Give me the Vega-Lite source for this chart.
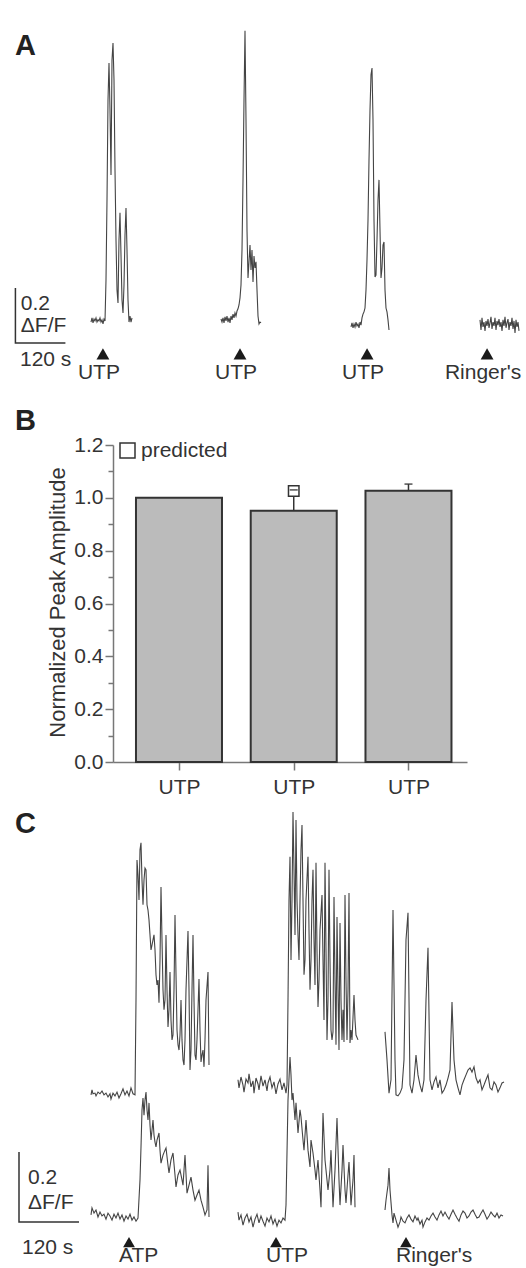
{
  "$schema": "https://vega.github.io/schema/vega-lite/v6.json",
  "background": "white",
  "padding": {"left": 12, "top": 24, "right": 0, "bottom": 0},
  "spacing": 0,
  "config": {
    "font": "Liberation Sans",
    "view": {"stroke": null},
    "text": {"font": "Liberation Sans", "fontSize": 21, "color": "#333"},
    "axis": {"labelFont": "Liberation Sans", "titleFont": "Liberation Sans", "grid": false},
    "legend": {"labelFont": "Liberation Sans"}
  },
  "resolve": {"scale": {"shape": "independent"}, "legend": {"shape": "independent"}},
  "datasets": {
    "a_traces": [
      {"trace":"A1","t":182.4,"v":-0.004},{"trace":"A1","t":184.8,"v":0.011},{"trace":"A1","t":187.2,"v":-0.007},{"trace":"A1","t":189.6,"v":0.007},{"trace":"A1","t":192,"v":0},{"trace":"A1","t":194.4,"v":0.011},{"trace":"A1","t":196.8,"v":-0.004},{"trace":"A1","t":199.2,"v":0.004},{"trace":"A1","t":201.6,"v":0},{"trace":"A1","t":204,"v":0.011},{"trace":"A1","t":206.4,"v":-0.004},{"trace":"A1","t":208.8,"v":0.004},{"trace":"A1","t":211.2,"v":-0.011},{"trace":"A1","t":213.6,"v":0.007},{"trace":"A1","t":216,"v":0},{"trace":"A1","t":218.4,"v":0.149},{"trace":"A1","t":220.8,"v":0.44},{"trace":"A1","t":223.2,"v":0.804},{"trace":"A1","t":225.6,"v":0.938},{"trace":"A1","t":228,"v":0.767},{"trace":"A1","t":230.4,"v":0.531},{"trace":"A1","t":232.8,"v":0.949},{"trace":"A1","t":235.2,"v":1.011},{"trace":"A1","t":237.6,"v":0.876},{"trace":"A1","t":240,"v":0.549},{"trace":"A1","t":242.4,"v":0.295},{"trace":"A1","t":244.8,"v":0.113},{"trace":"A1","t":247.2,"v":0.065},{"trace":"A1","t":249.6,"v":0.295},{"trace":"A1","t":252,"v":0.393},{"trace":"A1","t":254.4,"v":0.24},{"trace":"A1","t":256.8,"v":0.076},{"trace":"A1","t":259.2,"v":0.029},{"trace":"A1","t":261.6,"v":0.131},{"trace":"A1","t":264,"v":0.313},{"trace":"A1","t":266.4,"v":0.411},{"trace":"A1","t":268.8,"v":0.258},{"trace":"A1","t":271.2,"v":0.076},{"trace":"A1","t":273.6,"v":-0.004},{"trace":"A1","t":276,"v":0.018},{"trace":"A1","t":278.4,"v":-0.004},{"trace":"A1","t":280.8,"v":0.011},
      {"trace":"A2","t":494.4,"v":0.007},{"trace":"A2","t":496.8,"v":-0.004},{"trace":"A2","t":499.2,"v":0.011},{"trace":"A2","t":501.6,"v":-0.007},{"trace":"A2","t":504,"v":0.015},{"trace":"A2","t":506.4,"v":0},{"trace":"A2","t":508.8,"v":0.018},{"trace":"A2","t":511.2,"v":-0.004},{"trace":"A2","t":513.6,"v":0.011},{"trace":"A2","t":516,"v":-0.007},{"trace":"A2","t":518.4,"v":0.018},{"trace":"A2","t":520.8,"v":0.004},{"trace":"A2","t":523.2,"v":0.025},{"trace":"A2","t":525.6,"v":0.011},{"trace":"A2","t":528,"v":0.029},{"trace":"A2","t":530.4,"v":0.018},{"trace":"A2","t":532.8,"v":0.036},{"trace":"A2","t":535.2,"v":0.044},{"trace":"A2","t":537.6,"v":0.058},{"trace":"A2","t":540,"v":0.084},{"trace":"A2","t":542.4,"v":0.131},{"trace":"A2","t":544.8,"v":0.258},{"trace":"A2","t":547.2,"v":0.513},{"trace":"A2","t":549.6,"v":0.804},{"trace":"A2","t":552,"v":1.055},{"trace":"A2","t":554.4,"v":0.731},{"trace":"A2","t":556.8,"v":0.331},{"trace":"A2","t":559.2,"v":0.156},{"trace":"A2","t":561.6,"v":0.215},{"trace":"A2","t":564,"v":0.276},{"trace":"A2","t":566.4,"v":0.185},{"trace":"A2","t":568.8,"v":0.258},{"trace":"A2","t":571.2,"v":0.142},{"trace":"A2","t":573.6,"v":0.236},{"trace":"A2","t":576,"v":0.193},{"trace":"A2","t":578.4,"v":0.215},{"trace":"A2","t":580.8,"v":0.113},{"trace":"A2","t":583.2,"v":0.018},{"trace":"A2","t":585.6,"v":-0.011},{"trace":"A2","t":588,"v":-0.004},{"trace":"A2","t":590.4,"v":-0.007},
      {"trace":"A3","t":806.4,"v":-0.022},{"trace":"A3","t":808.8,"v":-0.007},{"trace":"A3","t":811.2,"v":-0.025},{"trace":"A3","t":813.6,"v":-0.011},{"trace":"A3","t":816,"v":-0.022},{"trace":"A3","t":818.4,"v":-0.004},{"trace":"A3","t":820.8,"v":-0.018},{"trace":"A3","t":823.2,"v":-0.011},{"trace":"A3","t":825.6,"v":-0.025},{"trace":"A3","t":828,"v":-0.004},{"trace":"A3","t":830.4,"v":-0.015},{"trace":"A3","t":832.8,"v":0.011},{"trace":"A3","t":835.2,"v":0.025},{"trace":"A3","t":837.6,"v":0.033},{"trace":"A3","t":840,"v":0.047},{"trace":"A3","t":842.4,"v":0.113},{"trace":"A3","t":844.8,"v":0.222},{"trace":"A3","t":847.2,"v":0.367},{"trace":"A3","t":849.6,"v":0.585},{"trace":"A3","t":852,"v":0.767},{"trace":"A3","t":854.4,"v":0.895},{"trace":"A3","t":856.8,"v":0.92},{"trace":"A3","t":859.2,"v":0.731},{"trace":"A3","t":861.6,"v":0.367},{"trace":"A3","t":864,"v":0.16},{"trace":"A3","t":866.4,"v":0.167},{"trace":"A3","t":868.8,"v":0.295},{"trace":"A3","t":871.2,"v":0.44},{"trace":"A3","t":873.6,"v":0.513},{"trace":"A3","t":876,"v":0.331},{"trace":"A3","t":878.4,"v":0.156},{"trace":"A3","t":880.8,"v":0.193},{"trace":"A3","t":883.2,"v":0.276},{"trace":"A3","t":885.6,"v":0.287},{"trace":"A3","t":888,"v":0.113},{"trace":"A3","t":890.4,"v":0.047},{"trace":"A3","t":892.8,"v":0.033},{"trace":"A3","t":895.2,"v":0.004},{"trace":"A3","t":897.6,"v":-0.033},
      {"trace":"A4","t":1116,"v":0.004},{"trace":"A4","t":1118.4,"v":-0.033},{"trace":"A4","t":1120.8,"v":0.011},{"trace":"A4","t":1123.2,"v":-0.022},{"trace":"A4","t":1125.6,"v":-0.004},{"trace":"A4","t":1128,"v":-0.036},{"trace":"A4","t":1130.4,"v":0},{"trace":"A4","t":1132.8,"v":-0.018},{"trace":"A4","t":1135.2,"v":0.007},{"trace":"A4","t":1137.6,"v":-0.025},{"trace":"A4","t":1140,"v":-0.007},{"trace":"A4","t":1142.4,"v":0.015},{"trace":"A4","t":1144.8,"v":-0.029},{"trace":"A4","t":1147.2,"v":-0.004},{"trace":"A4","t":1149.6,"v":-0.018},{"trace":"A4","t":1152,"v":0.011},{"trace":"A4","t":1154.4,"v":-0.033},{"trace":"A4","t":1156.8,"v":0},{"trace":"A4","t":1159.2,"v":-0.015},{"trace":"A4","t":1161.6,"v":0.007},{"trace":"A4","t":1164,"v":-0.022},{"trace":"A4","t":1166.4,"v":-0.004},{"trace":"A4","t":1168.8,"v":-0.036},{"trace":"A4","t":1171.2,"v":0.004},{"trace":"A4","t":1173.6,"v":-0.018},{"trace":"A4","t":1176,"v":0.015},{"trace":"A4","t":1178.4,"v":-0.025},{"trace":"A4","t":1180.8,"v":-0.007},{"trace":"A4","t":1183.2,"v":0.007},{"trace":"A4","t":1185.6,"v":-0.033},{"trace":"A4","t":1188,"v":-0.004},{"trace":"A4","t":1190.4,"v":-0.018},{"trace":"A4","t":1192.8,"v":0.011},{"trace":"A4","t":1195.2,"v":-0.029},{"trace":"A4","t":1197.6,"v":0},{"trace":"A4","t":1200,"v":-0.044},{"trace":"A4","t":1202.4,"v":0.004},{"trace":"A4","t":1204.8,"v":-0.022},{"trace":"A4","t":1207.2,"v":-0.004},{"trace":"A4","t":1209.6,"v":-0.036}
    ],
    "a_stim": [
      {"t": 211, "agent": "UTP"}, {"t": 540, "agent": "UTP"}, {"t": 845, "agent": "UTP"}, {"t": 1133, "agent": "Ringer's"}
    ],
    "a_scale": [
      {"i": 0, "t": 1, "v": 0.12}, {"i": 1, "t": 1, "v": -0.08}, {"i": 2, "t": 121, "v": -0.08}
    ],
    "a_scale_text": [
      {"t": 14, "v": 0.04, "label": "0.2"}, {"t": 14, "v": -0.04, "label": "ΔF/F"}, {"t": 12, "v": -0.164, "label": "120 s"}
    ],
    "bars": [
      {"pos": 1, "agent": "UTP", "mean": 1.0, "upper": 1.0},
      {"pos": 2, "agent": "UTP", "mean": 0.951, "upper": 1.03, "predicted": 1.026},
      {"pos": 3, "agent": "UTP", "mean": 1.027, "upper": 1.052}
    ],
    "c_top": [
      {"col":"ATP","t":152,"v":-0.014},{"col":"ATP","t":154,"v":0},{"col":"ATP","t":156,"v":-0.011},{"col":"ATP","t":160,"v":-0.009},{"col":"ATP","t":162,"v":-0.017},{"col":"ATP","t":166,"v":-0.006},{"col":"ATP","t":170,"v":-0.011},{"col":"ATP","t":174,"v":-0.003},{"col":"ATP","t":178,"v":-0.014},{"col":"ATP","t":182,"v":-0.009},{"col":"ATP","t":186,"v":-0.02},{"col":"ATP","t":190,"v":-0.011},{"col":"ATP","t":192,"v":-0.026},{"col":"ATP","t":196,"v":-0.009},{"col":"ATP","t":200,"v":-0.017},{"col":"ATP","t":204,"v":-0.006},{"col":"ATP","t":208,"v":-0.023},{"col":"ATP","t":212,"v":-0.011},{"col":"ATP","t":216,"v":0.003},{"col":"ATP","t":220,"v":-0.014},{"col":"ATP","t":224,"v":-0.003},{"col":"ATP","t":228,"v":-0.017},{"col":"ATP","t":232,"v":0.006},{"col":"ATP","t":236,"v":-0.011},{"col":"ATP","t":240,"v":-0.014},{"col":"ATP","t":242,"v":0.257},{"col":"ATP","t":244,"v":0.657},{"col":"ATP","t":246,"v":0.614},{"col":"ATP","t":248,"v":0.543},{"col":"ATP","t":250,"v":0.686},{"col":"ATP","t":252,"v":0.706},{"col":"ATP","t":254,"v":0.6},{"col":"ATP","t":256,"v":0.529},{"col":"ATP","t":258,"v":0.6},{"col":"ATP","t":260,"v":0.634},{"col":"ATP","t":262,"v":0.629},{"col":"ATP","t":264,"v":0.529},{"col":"ATP","t":266,"v":0.514},{"col":"ATP","t":268,"v":0.486},{"col":"ATP","t":270,"v":0.443},{"col":"ATP","t":272,"v":0.4},{"col":"ATP","t":274,"v":0.414},{"col":"ATP","t":276,"v":0.429},{"col":"ATP","t":278,"v":0.443},{"col":"ATP","t":280,"v":0.4},{"col":"ATP","t":282,"v":0.329},{"col":"ATP","t":284,"v":0.3},{"col":"ATP","t":286,"v":0.314},{"col":"ATP","t":288,"v":0.249},{"col":"ATP","t":290,"v":0.371},{"col":"ATP","t":292,"v":0.58},{"col":"ATP","t":294,"v":0.429},{"col":"ATP","t":296,"v":0.286},{"col":"ATP","t":298,"v":0.229},{"col":"ATP","t":300,"v":0.257},{"col":"ATP","t":302,"v":0.443},{"col":"ATP","t":304,"v":0.286},{"col":"ATP","t":306,"v":0.18},{"col":"ATP","t":308,"v":0.229},{"col":"ATP","t":310,"v":0.337},{"col":"ATP","t":312,"v":0.2},{"col":"ATP","t":314,"v":0.143},{"col":"ATP","t":316,"v":0.157},{"col":"ATP","t":318,"v":0.286},{"col":"ATP","t":320,"v":0.5},{"col":"ATP","t":322,"v":0.329},{"col":"ATP","t":324,"v":0.171},{"col":"ATP","t":326,"v":0.129},{"col":"ATP","t":328,"v":0.114},{"col":"ATP","t":330,"v":0.157},{"col":"ATP","t":332,"v":0.257},{"col":"ATP","t":334,"v":0.143},{"col":"ATP","t":336,"v":0.086},{"col":"ATP","t":338,"v":0.071},{"col":"ATP","t":340,"v":0.143},{"col":"ATP","t":342,"v":0.286},{"col":"ATP","t":346,"v":0.454},{"col":"ATP","t":348,"v":0.286},{"col":"ATP","t":350,"v":0.057},{"col":"ATP","t":352,"v":0.114},{"col":"ATP","t":354,"v":0.286},{"col":"ATP","t":356,"v":0.443},{"col":"ATP","t":358,"v":0.257},{"col":"ATP","t":360,"v":0.1},{"col":"ATP","t":362,"v":0.086},{"col":"ATP","t":364,"v":0.143},{"col":"ATP","t":368,"v":0.317},{"col":"ATP","t":370,"v":0.171},{"col":"ATP","t":372,"v":0.08},{"col":"ATP","t":374,"v":0.1},{"col":"ATP","t":376,"v":0.114},{"col":"ATP","t":378,"v":0.066},{"col":"ATP","t":380,"v":0.143},{"col":"ATP","t":382,"v":0.257},{"col":"ATP","t":386,"v":0.337},{"col":"ATP","t":388,"v":0.071},
      {"col":"UTP","t":446,"v":0.029},{"col":"UTP","t":448,"v":0.006},{"col":"UTP","t":452,"v":0.037},{"col":"UTP","t":456,"v":0.014},{"col":"UTP","t":458,"v":-0.006},{"col":"UTP","t":462,"v":0.031},{"col":"UTP","t":466,"v":0.02},{"col":"UTP","t":468,"v":0.046},{"col":"UTP","t":472,"v":0.009},{"col":"UTP","t":476,"v":0.026},{"col":"UTP","t":478,"v":-0.009},{"col":"UTP","t":482,"v":0.034},{"col":"UTP","t":486,"v":0.017},{"col":"UTP","t":488,"v":0},{"col":"UTP","t":492,"v":0.04},{"col":"UTP","t":496,"v":0.011},{"col":"UTP","t":500,"v":0.029},{"col":"UTP","t":504,"v":-0.003},{"col":"UTP","t":506,"v":0.02},{"col":"UTP","t":510,"v":0.037},{"col":"UTP","t":514,"v":0.006},{"col":"UTP","t":518,"v":0.023},{"col":"UTP","t":522,"v":-0.011},{"col":"UTP","t":526,"v":0.017},{"col":"UTP","t":530,"v":0.031},{"col":"UTP","t":534,"v":0},{"col":"UTP","t":538,"v":0.02},{"col":"UTP","t":542,"v":-0.009},{"col":"UTP","t":544,"v":0.014},{"col":"UTP","t":546,"v":0.257},{"col":"UTP","t":548,"v":0.543},{"col":"UTP","t":550,"v":0.666},{"col":"UTP","t":552,"v":0.371},{"col":"UTP","t":554,"v":0.543},{"col":"UTP","t":556,"v":0.794},{"col":"UTP","t":558,"v":0.629},{"col":"UTP","t":560,"v":0.443},{"col":"UTP","t":562,"v":0.771},{"col":"UTP","t":564,"v":0.543},{"col":"UTP","t":566,"v":0.443},{"col":"UTP","t":568,"v":0.371},{"col":"UTP","t":570,"v":0.543},{"col":"UTP","t":572,"v":0.686},{"col":"UTP","t":574,"v":0.757},{"col":"UTP","t":576,"v":0.543},{"col":"UTP","t":578,"v":0.329},{"col":"UTP","t":580,"v":0.371},{"col":"UTP","t":582,"v":0.543},{"col":"UTP","t":586,"v":0.666},{"col":"UTP","t":588,"v":0.457},{"col":"UTP","t":590,"v":0.286},{"col":"UTP","t":592,"v":0.371},{"col":"UTP","t":594,"v":0.543},{"col":"UTP","t":596,"v":0.629},{"col":"UTP","t":598,"v":0.429},{"col":"UTP","t":600,"v":0.3},{"col":"UTP","t":602,"v":0.649},{"col":"UTP","t":604,"v":0.4},{"col":"UTP","t":606,"v":0.237},{"col":"UTP","t":608,"v":0.314},{"col":"UTP","t":610,"v":0.457},{"col":"UTP","t":614,"v":0.557},{"col":"UTP","t":616,"v":0.371},{"col":"UTP","t":618,"v":0.2},{"col":"UTP","t":620,"v":0.649},{"col":"UTP","t":622,"v":0.4},{"col":"UTP","t":624,"v":0.143},{"col":"UTP","t":626,"v":0.257},{"col":"UTP","t":628,"v":0.629},{"col":"UTP","t":630,"v":0.371},{"col":"UTP","t":632,"v":0.171},{"col":"UTP","t":634,"v":0.143},{"col":"UTP","t":636,"v":0.166},{"col":"UTP","t":638,"v":0.551},{"col":"UTP","t":640,"v":0.314},{"col":"UTP","t":642,"v":0.129},{"col":"UTP","t":644,"v":0.494},{"col":"UTP","t":646,"v":0.286},{"col":"UTP","t":648,"v":0.114},{"col":"UTP","t":650,"v":0.477},{"col":"UTP","t":652,"v":0.257},{"col":"UTP","t":654,"v":0.143},{"col":"UTP","t":656,"v":0.229},{"col":"UTP","t":658,"v":0.137},{"col":"UTP","t":660,"v":0.557},{"col":"UTP","t":662,"v":0.314},{"col":"UTP","t":664,"v":0.143},{"col":"UTP","t":666,"v":0.286},{"col":"UTP","t":668,"v":0.563},{"col":"UTP","t":670,"v":0.134},{"col":"UTP","t":672,"v":0.171},{"col":"UTP","t":674,"v":0.143},{"col":"UTP","t":678,"v":0.271},{"col":"UTP","t":680,"v":0.2},{"col":"UTP","t":682,"v":0.157},{"col":"UTP","t":686,"v":0.143},
      {"col":"Ringer's","t":740,"v":0.166},{"col":"Ringer's","t":744,"v":0.086},{"col":"Ringer's","t":748,"v":-0.009},{"col":"Ringer's","t":752,"v":0.029},{"col":"Ringer's","t":756,"v":0.514},{"col":"Ringer's","t":760,"v":0.086},{"col":"Ringer's","t":762,"v":-0.014},{"col":"Ringer's","t":766,"v":-0.017},{"col":"Ringer's","t":770,"v":-0.009},{"col":"Ringer's","t":774,"v":0.006},{"col":"Ringer's","t":778,"v":0.086},{"col":"Ringer's","t":782,"v":0.429},{"col":"Ringer's","t":786,"v":0.506},{"col":"Ringer's","t":790,"v":0.014},{"col":"Ringer's","t":794,"v":-0.009},{"col":"Ringer's","t":798,"v":0.029},{"col":"Ringer's","t":802,"v":0.1},{"col":"Ringer's","t":806,"v":0.043},{"col":"Ringer's","t":810,"v":0.014},{"col":"Ringer's","t":814,"v":-0.006},{"col":"Ringer's","t":818,"v":0.029},{"col":"Ringer's","t":822,"v":0.257},{"col":"Ringer's","t":826,"v":0.406},{"col":"Ringer's","t":830,"v":0.029},{"col":"Ringer's","t":834,"v":0},{"col":"Ringer's","t":838,"v":0.023},{"col":"Ringer's","t":842,"v":0.037},{"col":"Ringer's","t":846,"v":0.006},{"col":"Ringer's","t":850,"v":0.029},{"col":"Ringer's","t":854,"v":-0.009},{"col":"Ringer's","t":858,"v":0},{"col":"Ringer's","t":862,"v":0.014},{"col":"Ringer's","t":866,"v":0.034},{"col":"Ringer's","t":870,"v":0.057},{"col":"Ringer's","t":874,"v":0.251},{"col":"Ringer's","t":878,"v":0.086},{"col":"Ringer's","t":882,"v":0.029},{"col":"Ringer's","t":886,"v":0.006},{"col":"Ringer's","t":890,"v":-0.014},{"col":"Ringer's","t":894,"v":0.014},{"col":"Ringer's","t":898,"v":0.029},{"col":"Ringer's","t":902,"v":0.043},{"col":"Ringer's","t":906,"v":0.057},{"col":"Ringer's","t":910,"v":0.063},{"col":"Ringer's","t":914,"v":0.051},{"col":"Ringer's","t":918,"v":0.066},{"col":"Ringer's","t":922,"v":0.034},{"col":"Ringer's","t":926,"v":0.02},{"col":"Ringer's","t":930,"v":0.029},{"col":"Ringer's","t":934,"v":0},{"col":"Ringer's","t":938,"v":0.014},{"col":"Ringer's","t":942,"v":0.029},{"col":"Ringer's","t":946,"v":0.043},{"col":"Ringer's","t":950,"v":0.006},{"col":"Ringer's","t":954,"v":0},{"col":"Ringer's","t":958,"v":0.023},{"col":"Ringer's","t":962,"v":0.014},{"col":"Ringer's","t":966,"v":-0.006},{"col":"Ringer's","t":970,"v":0.006},{"col":"Ringer's","t":974,"v":0.02},{"col":"Ringer's","t":978,"v":0.023}
    ],
    "c_bottom": [
      {"col":"ATP","t":152,"v":0.009},{"col":"ATP","t":154,"v":0.029},{"col":"ATP","t":158,"v":0.014},{"col":"ATP","t":162,"v":0.023},{"col":"ATP","t":166,"v":0.003},{"col":"ATP","t":170,"v":0.017},{"col":"ATP","t":174,"v":0.006},{"col":"ATP","t":178,"v":0.011},{"col":"ATP","t":182,"v":-0.003},{"col":"ATP","t":186,"v":0.014},{"col":"ATP","t":190,"v":0.006},{"col":"ATP","t":194,"v":-0.006},{"col":"ATP","t":198,"v":0.011},{"col":"ATP","t":202,"v":0},{"col":"ATP","t":206,"v":0.014},{"col":"ATP","t":210,"v":-0.003},{"col":"ATP","t":214,"v":0.009},{"col":"ATP","t":218,"v":-0.009},{"col":"ATP","t":222,"v":0.006},{"col":"ATP","t":226,"v":-0.003},{"col":"ATP","t":230,"v":0.011},{"col":"ATP","t":234,"v":-0.006},{"col":"ATP","t":238,"v":0.003},{"col":"ATP","t":242,"v":-0.009},{"col":"ATP","t":246,"v":0},{"col":"ATP","t":250,"v":0.109},{"col":"ATP","t":252,"v":0.203},{"col":"ATP","t":254,"v":0.309},{"col":"ATP","t":256,"v":0.343},{"col":"ATP","t":258,"v":0.294},{"col":"ATP","t":260,"v":0.337},{"col":"ATP","t":262,"v":0.36},{"col":"ATP","t":264,"v":0.309},{"col":"ATP","t":266,"v":0.28},{"col":"ATP","t":268,"v":0.329},{"col":"ATP","t":270,"v":0.266},{"col":"ATP","t":272,"v":0.223},{"col":"ATP","t":274,"v":0.251},{"col":"ATP","t":276,"v":0.28},{"col":"ATP","t":278,"v":0.237},{"col":"ATP","t":280,"v":0.217},{"col":"ATP","t":282,"v":0.203},{"col":"ATP","t":284,"v":0.223},{"col":"ATP","t":288,"v":0.243},{"col":"ATP","t":290,"v":0.194},{"col":"ATP","t":292,"v":0.157},{"col":"ATP","t":296,"v":0.18},{"col":"ATP","t":300,"v":0.194},{"col":"ATP","t":302,"v":0.2},{"col":"ATP","t":306,"v":0.151},{"col":"ATP","t":308,"v":0.129},{"col":"ATP","t":312,"v":0.166},{"col":"ATP","t":316,"v":0.186},{"col":"ATP","t":320,"v":0.123},{"col":"ATP","t":322,"v":0.089},{"col":"ATP","t":326,"v":0.123},{"col":"ATP","t":330,"v":0.137},{"col":"ATP","t":334,"v":0.109},{"col":"ATP","t":336,"v":0.094},{"col":"ATP","t":340,"v":0.18},{"col":"ATP","t":344,"v":0.071},{"col":"ATP","t":348,"v":0.094},{"col":"ATP","t":352,"v":0.117},{"col":"ATP","t":356,"v":0.08},{"col":"ATP","t":360,"v":0.051},{"col":"ATP","t":364,"v":0.066},{"col":"ATP","t":368,"v":0.08},{"col":"ATP","t":372,"v":0.051},{"col":"ATP","t":376,"v":0.031},{"col":"ATP","t":380,"v":0.009},{"col":"ATP","t":384,"v":0.023},{"col":"ATP","t":386,"v":0.151},{"col":"ATP","t":388,"v":0.003},
      {"col":"UTP","t":446,"v":0.017},{"col":"UTP","t":448,"v":-0.006},{"col":"UTP","t":452,"v":0.009},{"col":"UTP","t":456,"v":-0.02},{"col":"UTP","t":460,"v":0},{"col":"UTP","t":464,"v":0.011},{"col":"UTP","t":468,"v":-0.011},{"col":"UTP","t":472,"v":0.003},{"col":"UTP","t":476,"v":-0.026},{"col":"UTP","t":480,"v":-0.003},{"col":"UTP","t":484,"v":0.011},{"col":"UTP","t":488,"v":-0.014},{"col":"UTP","t":492,"v":0.006},{"col":"UTP","t":496,"v":-0.009},{"col":"UTP","t":500,"v":-0.023},{"col":"UTP","t":504,"v":0},{"col":"UTP","t":508,"v":-0.011},{"col":"UTP","t":512,"v":0.006},{"col":"UTP","t":516,"v":-0.017},{"col":"UTP","t":520,"v":-0.003},{"col":"UTP","t":524,"v":-0.023},{"col":"UTP","t":528,"v":-0.006},{"col":"UTP","t":532,"v":-0.014},{"col":"UTP","t":536,"v":0},{"col":"UTP","t":540,"v":-0.006},{"col":"UTP","t":542,"v":0.037},{"col":"UTP","t":546,"v":0.337},{"col":"UTP","t":550,"v":0.46},{"col":"UTP","t":552,"v":0.409},{"col":"UTP","t":554,"v":0.337},{"col":"UTP","t":556,"v":0.357},{"col":"UTP","t":560,"v":0.28},{"col":"UTP","t":562,"v":0.329},{"col":"UTP","t":566,"v":0.243},{"col":"UTP","t":570,"v":0.309},{"col":"UTP","t":572,"v":0.289},{"col":"UTP","t":576,"v":0.223},{"col":"UTP","t":578,"v":0.194},{"col":"UTP","t":582,"v":0.28},{"col":"UTP","t":586,"v":0.194},{"col":"UTP","t":590,"v":0.146},{"col":"UTP","t":592,"v":0.223},{"col":"UTP","t":596,"v":0.186},{"col":"UTP","t":600,"v":0.137},{"col":"UTP","t":602,"v":0.109},{"col":"UTP","t":606,"v":0.166},{"col":"UTP","t":610,"v":0.08},{"col":"UTP","t":612,"v":0.031},{"col":"UTP","t":616,"v":0.3},{"col":"UTP","t":620,"v":0.166},{"col":"UTP","t":626,"v":0.08},{"col":"UTP","t":630,"v":0.137},{"col":"UTP","t":632,"v":0.194},{"col":"UTP","t":636,"v":0.031},{"col":"UTP","t":640,"v":0.137},{"col":"UTP","t":644,"v":0.286},{"col":"UTP","t":648,"v":0.109},{"col":"UTP","t":650,"v":0.037},{"col":"UTP","t":654,"v":0.137},{"col":"UTP","t":656,"v":0.209},{"col":"UTP","t":660,"v":0.08},{"col":"UTP","t":662,"v":0.043},{"col":"UTP","t":666,"v":0.123},{"col":"UTP","t":668,"v":0.16},{"col":"UTP","t":672,"v":0.037},{"col":"UTP","t":676,"v":0.109},{"col":"UTP","t":678,"v":0.18},{"col":"UTP","t":680,"v":0.031},
      {"col":"Ringer's","t":740,"v":0.023},{"col":"Ringer's","t":742,"v":0.051},{"col":"Ringer's","t":746,"v":0.094},{"col":"Ringer's","t":748,"v":0.143},{"col":"Ringer's","t":750,"v":0.08},{"col":"Ringer's","t":754,"v":0.009},{"col":"Ringer's","t":756,"v":-0.014},{"col":"Ringer's","t":758,"v":0.014},{"col":"Ringer's","t":762,"v":-0.006},{"col":"Ringer's","t":766,"v":-0.026},{"col":"Ringer's","t":770,"v":-0.011},{"col":"Ringer's","t":772,"v":0.003},{"col":"Ringer's","t":776,"v":-0.009},{"col":"Ringer's","t":780,"v":-0.014},{"col":"Ringer's","t":784,"v":0},{"col":"Ringer's","t":788,"v":0.009},{"col":"Ringer's","t":792,"v":-0.003},{"col":"Ringer's","t":796,"v":-0.011},{"col":"Ringer's","t":800,"v":0.006},{"col":"Ringer's","t":804,"v":-0.006},{"col":"Ringer's","t":806,"v":0},{"col":"Ringer's","t":810,"v":-0.017},{"col":"Ringer's","t":814,"v":-0.006},{"col":"Ringer's","t":816,"v":-0.026},{"col":"Ringer's","t":820,"v":-0.011},{"col":"Ringer's","t":824,"v":0},{"col":"Ringer's","t":828,"v":-0.006},{"col":"Ringer's","t":832,"v":0.006},{"col":"Ringer's","t":836,"v":0.014},{"col":"Ringer's","t":840,"v":0.003},{"col":"Ringer's","t":844,"v":-0.006},{"col":"Ringer's","t":848,"v":0.009},{"col":"Ringer's","t":852,"v":0.02},{"col":"Ringer's","t":856,"v":0.006},{"col":"Ringer's","t":860,"v":0.017},{"col":"Ringer's","t":864,"v":0.006},{"col":"Ringer's","t":868,"v":-0.003},{"col":"Ringer's","t":872,"v":0.011},{"col":"Ringer's","t":876,"v":0.023},{"col":"Ringer's","t":880,"v":0.011},{"col":"Ringer's","t":884,"v":0},{"col":"Ringer's","t":888,"v":-0.009},{"col":"Ringer's","t":892,"v":0.009},{"col":"Ringer's","t":896,"v":0.02},{"col":"Ringer's","t":900,"v":0.014},{"col":"Ringer's","t":904,"v":0},{"col":"Ringer's","t":908,"v":0.006},{"col":"Ringer's","t":912,"v":0.017},{"col":"Ringer's","t":916,"v":0.023},{"col":"Ringer's","t":920,"v":0.011},{"col":"Ringer's","t":924,"v":0},{"col":"Ringer's","t":928,"v":0.003},{"col":"Ringer's","t":932,"v":0.014},{"col":"Ringer's","t":936,"v":0.023},{"col":"Ringer's","t":940,"v":0.011},{"col":"Ringer's","t":944,"v":-0.003},{"col":"Ringer's","t":948,"v":0.006},{"col":"Ringer's","t":952,"v":0.017},{"col":"Ringer's","t":956,"v":0.009},{"col":"Ringer's","t":960,"v":0.003},{"col":"Ringer's","t":964,"v":0.014},{"col":"Ringer's","t":968,"v":0},{"col":"Ringer's","t":972,"v":0.009},{"col":"Ringer's","t":976,"v":0.006}
    ],
    "c_stim": [
      {"t": 228, "agent": "ATP"}, {"t": 522, "agent": "UTP"}, {"t": 782, "agent": "Ringer's"}
    ],
    "c_scale": [
      {"i": 0, "t": 8, "v": 0.189}, {"i": 1, "t": 8, "v": -0.011}, {"i": 2, "t": 128, "v": -0.011}
    ],
    "c_scale_text": [
      {"t": 26, "v": 0.097, "label": "0.2"}, {"t": 26, "v": 0.026, "label": "ΔF/F"}, {"t": 14, "v": -0.103, "label": "120 s"}
    ]
  },
  "vconcat": [
    {
      "width": 514,
      "height": 383,
      "title": {"text": "A", "anchor": "start", "frame": "group", "fontSize": 29, "fontWeight": "bold", "baseline": "top", "offset": -37, "color": "#222"},
      "encoding": {
        "x": {"field": "t", "type": "quantitative", "scale": {"domain": [0, 1233.6], "nice": false, "zero": false}, "axis": null}
      },
      "layer": [
        {"data": {"name": "a_traces"}, "mark": {"type": "line", "color": "#444", "strokeWidth": 1.1},
         "encoding": {"y": {"field": "v", "type": "quantitative", "scale": {"domain": [-0.313, 1.08], "nice": false, "zero": false}, "axis": null}, "detail": {"field": "trace"}}},
        {"data": {"name": "a_stim"}, "mark": {"type": "point", "shape": "triangle-up", "filled": true, "color": "#1a1a1a", "size": 165, "opacity": 1},
         "encoding": {"y": {"datum": -0.12, "type": "quantitative"}}},
        {"data": {"name": "a_stim"}, "mark": {"type": "text", "align": "center", "baseline": "alphabetic", "dx": -4, "fontSize": 21},
         "encoding": {"y": {"datum": -0.211, "type": "quantitative"}, "text": {"field": "agent"}}},
        {"data": {"name": "a_scale"}, "mark": {"type": "line", "color": "#333", "strokeWidth": 1.5},
         "encoding": {"y": {"field": "v", "type": "quantitative"}, "order": {"field": "i"}}},
        {"data": {"name": "a_scale_text"}, "mark": {"type": "text", "align": "left", "baseline": "alphabetic", "fontSize": 21},
         "encoding": {"y": {"field": "v", "type": "quantitative"}, "text": {"field": "label"}}}
      ]
    },
    {
      "width": 514,
      "height": 317,
      "title": {"text": "B", "anchor": "start", "frame": "group", "fontSize": 29, "fontWeight": "bold", "baseline": "top", "offset": -2, "color": "#222"},
      "data": {"name": "bars"},
      "encoding": {
        "x": {"field": "pos", "type": "quantitative", "scale": {"domain": [0.425, 3.51], "range": [98, 452], "padding": 0, "nice": false, "zero": false},
              "axis": {"values": [1, 2, 3], "labelExpr": "'UTP'", "title": null, "tickSize": 8, "labelFontSize": 21, "labelColor": "#333", "labelPadding": 6, "domainColor": "#777", "tickColor": "#777", "domainWidth": 1.5, "tickWidth": 1.5, "grid": false}}
      },
      "layer": [
        {
          "mark": {"type": "bar", "width": 86, "fill": "#bbbbbb", "stroke": "#333", "strokeWidth": 2},
          "encoding": {
            "y": {"field": "mean", "type": "quantitative", "scale": {"domain": [0, 1.2], "nice": false},
                  "axis": {"orient": "left", "offset": -98, "values": [0, 0.2, 0.4, 0.6, 0.8, 1.0, 1.2], "format": ".1f", "title": "Normalized Peak Amplitude", "titleFontSize": 22, "titleFontWeight": "normal", "titleColor": "#333", "titleAngle": -90, "titleX": -49, "titleY": 157, "titleAlign": "center", "titleBaseline": "alphabetic", "labelFontSize": 21, "labelColor": "#333", "labelPadding": 2, "tickSize": 8, "tickColor": "#777", "domainColor": "#777", "domainWidth": 1.5, "tickWidth": 1.5, "grid": false}}
          }
        },
        {
          "transform": [{"filter": "datum.upper > datum.mean"}],
          "mark": {"type": "rule", "color": "#333", "strokeWidth": 1.5},
          "encoding": {
            "y": {"field": "mean", "type": "quantitative",
                  "axis": {"orient": "left", "offset": -98, "values": [0.1, 0.3, 0.5, 0.7, 0.9, 1.1], "labels": false, "domain": false, "title": null, "tickSize": 5, "tickColor": "#777", "tickWidth": 1.5, "grid": false}},
            "y2": {"field": "upper"}
          }
        },
        {
          "transform": [{"filter": "isValid(datum.predicted)"}],
          "mark": {"type": "point", "shape": "square", "filled": true, "fill": "white", "stroke": "#333", "strokeWidth": 1.5, "size": 110, "opacity": 1},
          "encoding": {
            "y": {"field": "predicted", "type": "quantitative", "axis": null},
            "shape": {"datum": "predicted", "type": "nominal", "scale": {"range": ["square"]},
                      "legend": {"orient": "none", "legendX": 102, "legendY": -5, "title": null, "labelFontSize": 21, "labelColor": "#333", "symbolSize": 225, "labelOffset": 3, "padding": 0,
                                 "encode": {"symbols": {"update": {"fill": {"value": "white"}, "stroke": {"value": "#555"}, "strokeWidth": {"value": 1.5}, "opacity": {"value": 1}}}}}}
          }
        },
        {
          "transform": [{"filter": "datum.upper > datum.mean"}],
          "mark": {"type": "tick", "orient": "horizontal", "color": "#333", "size": 8, "thickness": 1.8},
          "encoding": {"y": {"field": "upper", "type": "quantitative", "axis": null}}
        }
      ],
      "resolve": {"axis": {"y": "independent"}}
    },
    {
      "width": 514,
      "height": 469,
      "title": {"text": "C", "anchor": "start", "frame": "group", "fontSize": 29, "fontWeight": "bold", "baseline": "top", "offset": -42, "color": "#222"},
      "encoding": {
        "x": {"field": "t", "type": "quantitative", "scale": {"domain": [0, 1028], "nice": false, "zero": false}, "axis": null}
      },
      "layer": [
        {
          "data": {"name": "c_top"},
          "mark": {"type": "line", "color": "#444", "strokeWidth": 1.1},
          "encoding": {
            "y": {"field": "v", "type": "quantitative", "scale": {"domain": [-0.503, 0.837], "nice": false, "zero": false}, "axis": null},
            "detail": {"field": "col"}
          }
        },
        {
          "layer": [
            {"data": {"name": "c_bottom"}, "mark": {"type": "line", "color": "#444", "strokeWidth": 1.1},
             "encoding": {"y": {"field": "v", "type": "quantitative", "scale": {"domain": [-0.137, 1.203], "nice": false, "zero": false}, "axis": null}, "detail": {"field": "col"}}},
            {"data": {"name": "c_stim"}, "mark": {"type": "point", "shape": "triangle-up", "filled": true, "color": "#1a1a1a", "size": 140, "opacity": 1},
             "encoding": {"y": {"datum": -0.069, "type": "quantitative"}}},
            {"data": {"name": "c_stim"}, "mark": {"type": "text", "align": "left", "baseline": "alphabetic", "dx": -10, "fontSize": 21},
             "encoding": {"y": {"datum": -0.126, "type": "quantitative"}, "text": {"field": "agent"}}},
            {"data": {"name": "c_scale"}, "mark": {"type": "line", "color": "#333", "strokeWidth": 1.5},
             "encoding": {"y": {"field": "v", "type": "quantitative"}, "order": {"field": "i"}}},
            {"data": {"name": "c_scale_text"}, "mark": {"type": "text", "align": "left", "baseline": "alphabetic", "fontSize": 21},
             "encoding": {"y": {"field": "v", "type": "quantitative"}, "text": {"field": "label"}}}
          ]
        }
      ],
      "resolve": {"scale": {"y": "independent"}}
    }
  ]
}
